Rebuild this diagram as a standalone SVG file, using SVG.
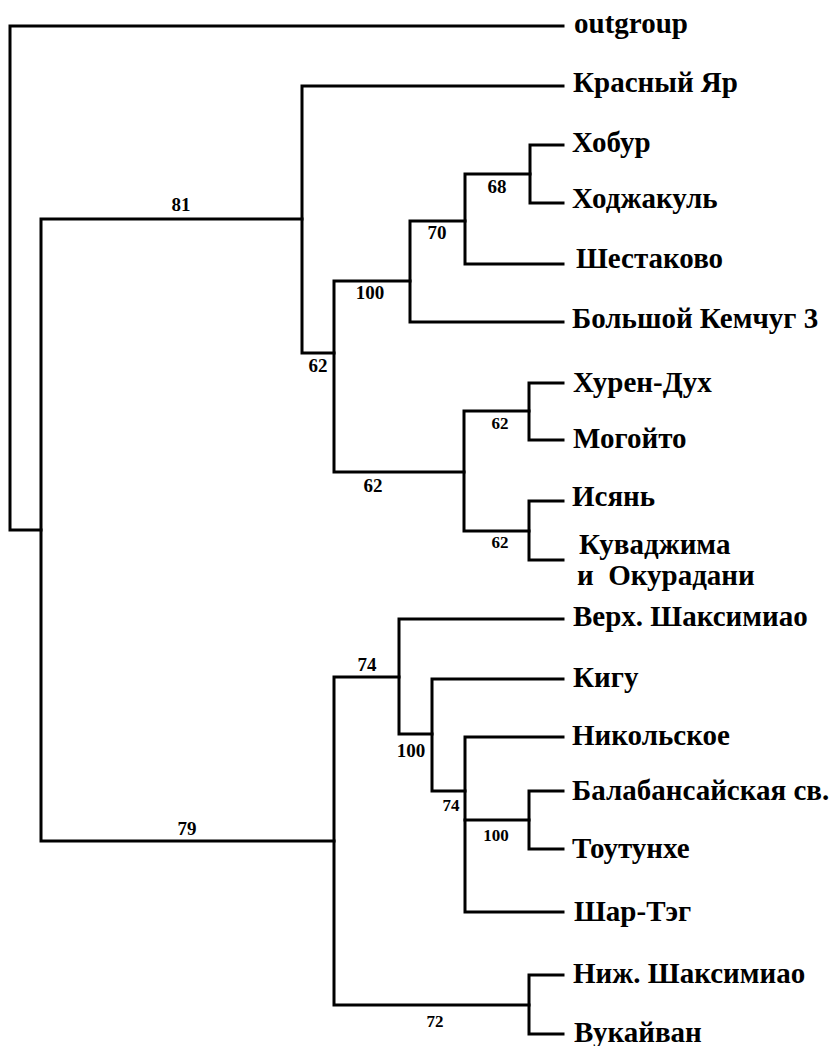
<svg xmlns="http://www.w3.org/2000/svg" width="838" height="1046" viewBox="0 0 838 1046">
<style>
.e{fill:none;stroke:#000;stroke-width:3;stroke-linejoin:miter;stroke-linecap:square}
text{font-family:'Liberation Serif','DejaVu Serif',serif;font-weight:bold;fill:#000}
.t{font-size:29px}
.s{font-size:19px;text-anchor:middle}
.s2{font-size:17px;text-anchor:middle}
</style>
<rect width="838" height="1046" fill="#fff"/>
<g id="connectors">
<path class="e" d="M563 26 H10 V530 H41"/>
<path class="e" d="M302 219 H41 V841 H334"/>
<path class="e" d="M563 86 H302 V353 H334"/>
<path class="e" d="M410 281 H334 V472 H464"/>
<path class="e" d="M465 221 H410 V322 H563"/>
<path class="e" d="M530 174 H465 V264 H563"/>
<path class="e" d="M563 145 H530 V203 H563"/>
<path class="e" d="M529 411 H464 V531 H529"/>
<path class="e" d="M563 383 H529 V440 H563"/>
<path class="e" d="M563 501 H529 V560 H563"/>
<path class="e" d="M399 677 H334 V1005 H529"/>
<path class="e" d="M563 619 H399 V734 H432"/>
<path class="e" d="M563 679 H432 V791 H465"/>
<path class="e" d="M563 737 H465 V912 H563"/>
<path class="e" d="M465 820 H529"/>
<path class="e" d="M563 791 H529 V849 H563"/>
<path class="e" d="M563 975 H529 V1034 H563"/>
</g>
<g id="support">
<g id="n81"><text class="s" x="181" y="211">81</text></g>
<g id="n100a"><text class="s" x="370" y="299">100</text></g>
<g id="n70"><text class="s" x="437" y="239">70</text></g>
<g id="n68"><text class="s" x="497" y="193">68</text></g>
<g id="n62a"><text class="s" x="318" y="372">62</text></g>
<g id="n62b"><text class="s" x="373" y="492">62</text></g>
<g id="n62c"><text class="s2" x="500" y="429">62</text></g>
<g id="n62d"><text class="s2" x="500" y="548">62</text></g>
<g id="n74a"><text class="s" x="367" y="671">74</text></g>
<g id="n79"><text class="s" x="187" y="835">79</text></g>
<g id="n100b"><text class="s" x="411" y="757">100</text></g>
<g id="n74b"><text class="s2" x="451" y="811">74</text></g>
<g id="n100c"><text class="s2" x="496" y="841">100</text></g>
<g id="n72"><text class="s2" x="435" y="1027">72</text></g>
</g>
<g id="leaves">
<g id="outgroup"><text class="t" x="574" y="33">outgroup</text></g>
<g id="krasny"><text class="t" x="573" y="92">Красный Яр</text></g>
<g id="khobur"><text class="t" x="572" y="152">Хобур</text></g>
<g id="khodzhakul"><text class="t" x="572" y="208">Ходжакуль</text></g>
<g id="shestakovo"><text class="t" x="576" y="268">Шестаково</text></g>
<g id="kemchug"><text class="t" x="572" y="328">Большой Кемчуг 3</text></g>
<g id="khuren"><text class="t" x="573" y="392">Хурен-Дух</text></g>
<g id="mogoyto"><text class="t" x="573" y="448">Могойто</text></g>
<g id="isyan"><text class="t" x="572" y="506">Исянь</text></g>
<g id="kuvadzhima"><text class="t" x="579" y="554">Куваджима</text><text class="t" x="577" y="585" xml:space="preserve">и  Окурадани</text></g>
<g id="verkh"><text class="t" x="573" y="626">Верх. Шаксимиао</text></g>
<g id="kigu"><text class="t" x="573" y="687">Кигу</text></g>
<g id="nikolskoe"><text class="t" x="572" y="745">Никольское</text></g>
<g id="balaban"><text class="t" x="572" y="800">Балабансайская св.</text></g>
<g id="toutunkhe"><text class="t" x="572" y="858">Тоутунхе</text></g>
<g id="shartag"><text class="t" x="574" y="921">Шар-Тэг</text></g>
<g id="nizh"><text class="t" x="573" y="983">Ниж. Шаксимиао</text></g>
<g id="vukayvan"><text class="t" x="574" y="1042">Вукайван</text></g>
</g>
</svg>
